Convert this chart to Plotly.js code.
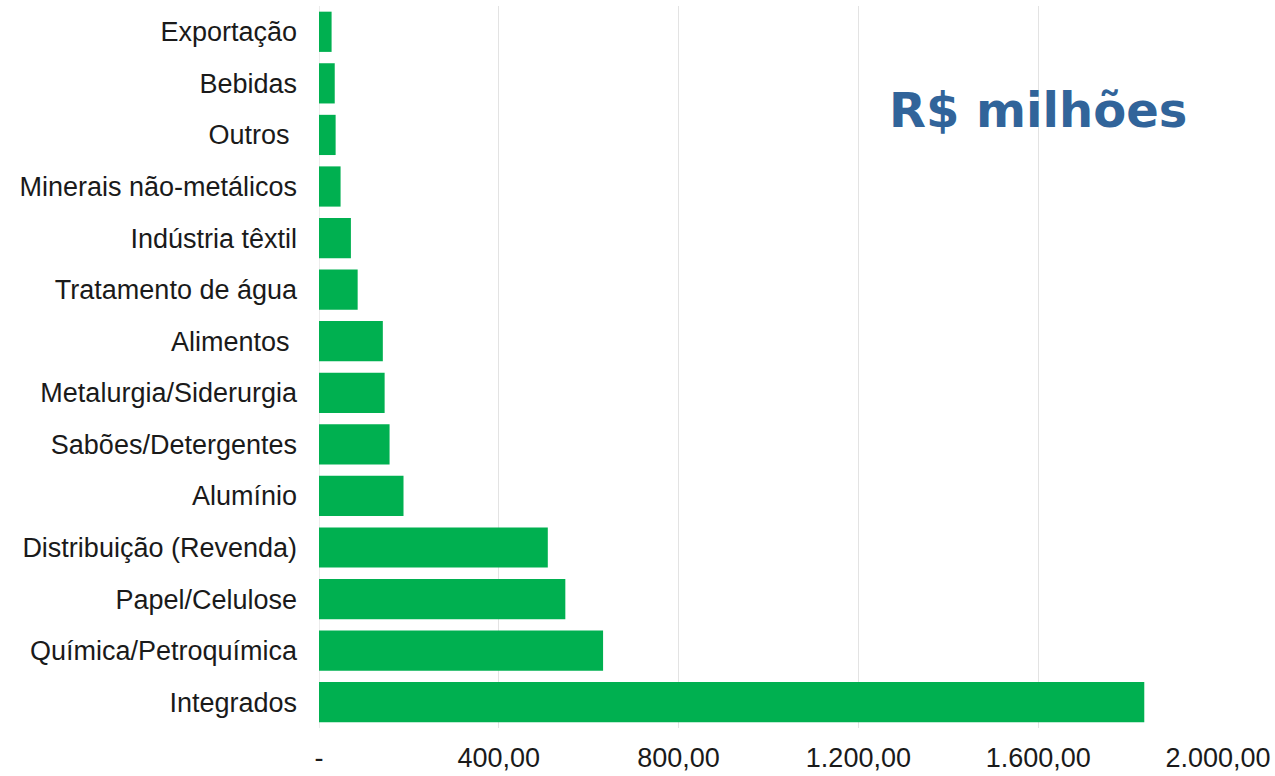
<!DOCTYPE html>
<html>
<head>
<meta charset="utf-8">
<script src="https://cdn.plot.ly/plotly-3.0.1.min.js"></script>
<style>html,body{margin:0;padding:0;background:#fff;}#chart{width:1275px;height:776px;}</style>
</head>
<body>
<div id="chart"></div>
<script>
const categories = ["Exportação","Bebidas","Outros ","Minerais não-metálicos","Indústria têxtil","Tratamento de água","Alimentos ","Metalurgia/Siderurgia","Sabões/Detergentes","Alumínio","Distribuição (Revenda)","Papel/Celulose","Química/Petroquímica","Integrados"];
const values = [28, 35, 37, 48, 71, 86, 142, 146, 157, 188, 509, 548, 632, 1836];
const tickValues = [0, 400, 800, 1200, 1600, 2000];
const tickLabels = ["-", "400,00", "800,00", "1.200,00", "1.600,00", "2.000,00"];

const trace = {
  type: "bar",
  orientation: "h",
  y: categories,
  x: values,
  marker: {color: "#00B050", line: {width: 0}},
  hoverinfo: "x+y"
};

const layout = {
  width: 1275, height: 776,
  margin: {l: 319, r: 57, t: 6, b: 48},
  paper_bgcolor: "#ffffff",
  plot_bgcolor: "#ffffff",
  bargap: 0.22,
  showlegend: false,
  font: {family: "Liberation Sans, Arial, sans-serif", size: 27, color: "#1a1a1a"},
  xaxis: {
    range: [0, 2000],
    tickvals: tickValues,
    ticktext: tickLabels,
    showgrid: true,
    gridcolor: "#e3e3e3",
    gridwidth: 1,
    zeroline: false,
    showline: false,
    ticks: "",
    ticklen: 0,
    ticklabelstandoff: 11,
    tickfont: {size: 27, color: "#1a1a1a"},
    fixedrange: true
  },
  yaxis: {
    type: "category",
    autorange: "reversed",
    showgrid: false,
    zeroline: false,
    showline: false,
    ticks: "",
    ticklabelstandoff: 21,
    tickfont: {size: 27, color: "#1a1a1a"},
    fixedrange: true
  },
  shapes: [{
    type: "line", xref: "x", yref: "paper", x0: 0, x1: 0, y0: 0, y1: 1,
    line: {color: "#d9d9d9", width: 1}, layer: "below"
  }],
  annotations: [{
    text: "<b>R$ milhões</b>",
    xref: "paper", yref: "paper",
    x: 0.8, y: 0.856,
    xanchor: "center", yanchor: "middle",
    showarrow: false,
    font: {family: "DejaVu Sans, Verdana, sans-serif", size: 48, color: "#31649A"}
  }]
};

Plotly.newPlot("chart", [trace], layout, {displayModeBar: false, staticPlot: true});
</script>
</body>
</html>
